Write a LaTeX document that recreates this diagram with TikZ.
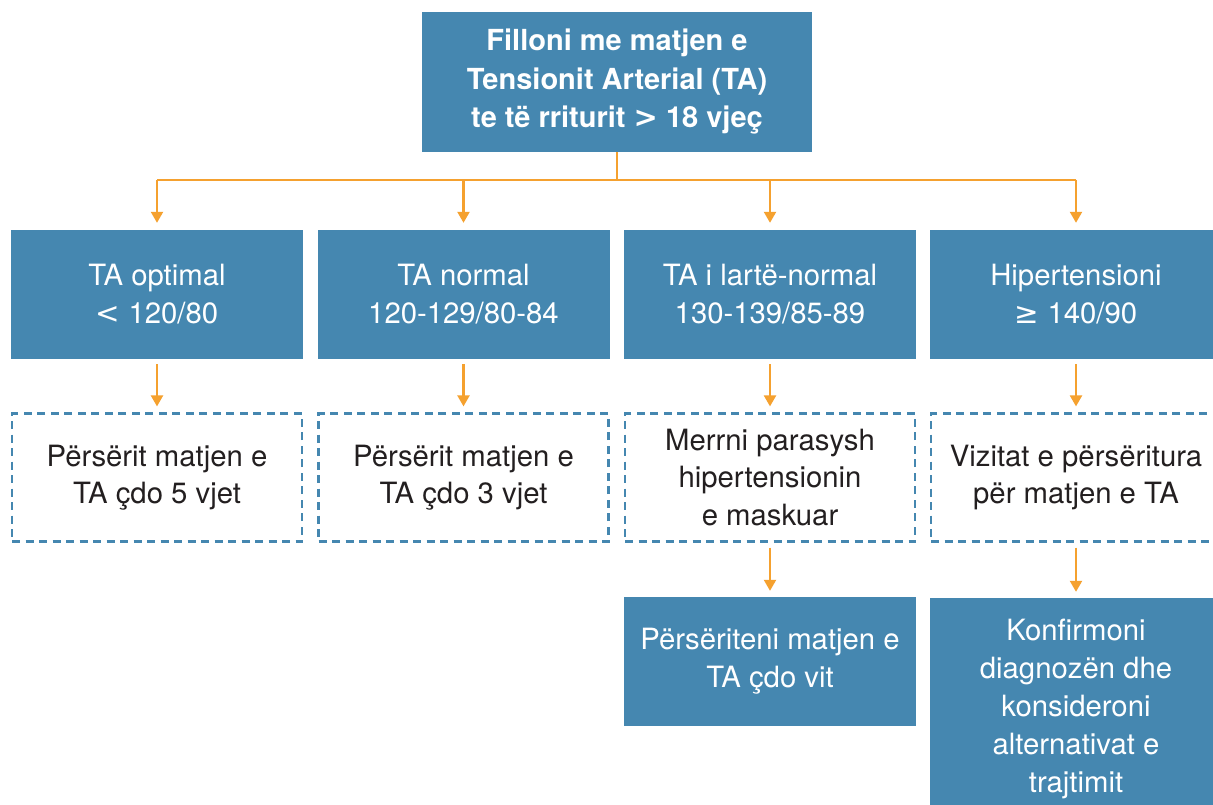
\documentclass[tikz,border=0pt]{standalone}
\usepackage{fontspec}
\setmainfont{TeX Gyre Heros}
\newfontfamily\symf{DejaVu Sans}
\usetikzlibrary{arrows.meta}
\definecolor{boxblue}{HTML}{4587B0}
\definecolor{arrorange}{HTML}{F5A12F}
\definecolor{txtdark}{HTML}{231F20}
\begin{document}
\begin{tikzpicture}[x=1pt,y=-1pt,
  solidbox/.style={fill=boxblue, draw=none, text=white, inner sep=0pt,
    minimum width=292pt, minimum height=129pt, align=center,
    font=\fontsize{29.3}{38}\selectfont},
  dashbox/.style={draw=boxblue, line width=2.2pt, dash pattern=on 8pt off 5.5pt,
    fill=white, text=txtdark, inner sep=0pt,
    minimum width=290pt, minimum height=128pt, align=center,
    font=\fontsize{29.3}{37.5}\selectfont},
  conn/.style={draw=arrorange, line width=2.2pt},
  arr/.style={conn, -{Triangle[width=12pt,length=11pt]}}
]
\useasboundingbox (0,0) rectangle (1213,805);
\fill[white] (0,0) rectangle (1213,805);

\node[solidbox, minimum width=390pt, minimum height=140pt,
  font=\fontsize{29}{38.5}\selectfont\bfseries] (top) at (617,82)
  {Filloni me matjen e\\Tensionit Arterial (TA)\\te të rriturit {\symf\bfseries >} 18 vjeç};

\node[solidbox] (r1) at (157,294.5) {TA optimal\\{\symf <} 120/80};
\node[solidbox] (r2) at (463.5,294.5) {TA normal\\120-129/80-84};
\node[solidbox] (r3) at (770,294.5) {TA i lartë-normal\\130-139/85-89};
\node[solidbox] (r4) at (1076,294.5) {Hipertensioni\\{\symf ≥} 140/90};

\node[dashbox] (d1) at (157,477.5) {Përsërit matjen e\\TA çdo 5 vjet};
\node[dashbox] (d2) at (463.5,477.5) {Përsërit matjen e\\TA çdo 3 vjet};
\node[dashbox] (d3) at (770,477.5) {Merrni parasysh\\hipertensionin\\e maskuar};
\node[dashbox] (d4) at (1076,477.5) {Vizitat e përsëritura\\për matjen e TA};

\node[solidbox] (b3) at (770,661.5) {Përsëriteni matjen e\\TA çdo vit};
\node[solidbox, minimum height=222pt] (b4) at (1076,709)
  {Konfirmoni\\diagnozën dhe\\konsideroni\\alternativat e\\trajtimit};

\coordinate (hub) at (617,180);
\draw[conn] (top.south) -- (hub);
\draw[conn] (r1.north |- hub) -- (r4.north |- hub);
\foreach \n in {r1,r2,r3,r4}{
  \draw[arr, shorten >=7pt] (\n.north |- hub) -- (\n.north);
}
\foreach \a/\b in {r1/d1,r2/d2,r3/d3,r4/d4}{
  \draw[arr, shorten <=5pt, shorten >=6pt] (\a.south) -- (\b.north);
}
\draw[arr, shorten <=5pt, shorten >=6pt] (d3.south) -- (b3.north);
\draw[arr, shorten <=5pt, shorten >=6pt] (d4.south) -- (b4.north);
\end{tikzpicture}
\end{document}
